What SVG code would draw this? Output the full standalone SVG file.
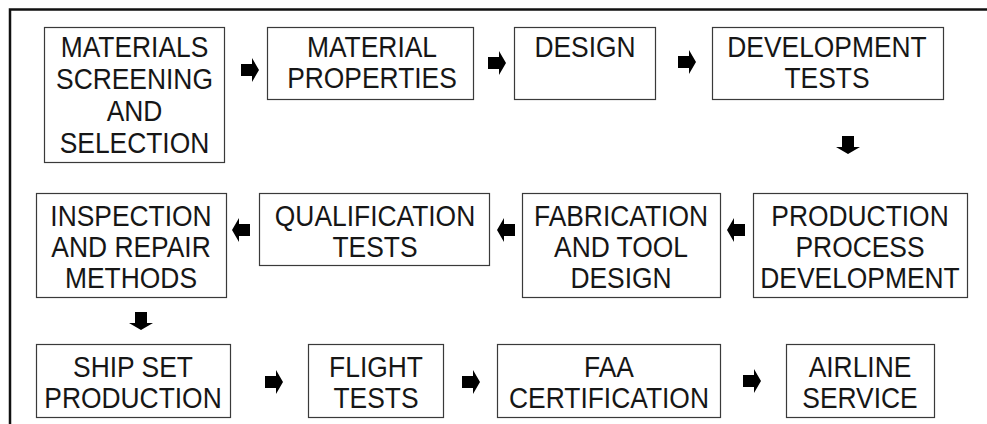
<svg xmlns="http://www.w3.org/2000/svg" width="987" height="424" viewBox="0 0 987 424">
<style>
.box{fill:#fff;stroke:#3a3a3a;stroke-width:1.2}
.t{font-family:"Liberation Sans",Arial,sans-serif;font-size:30px;fill:#161616;text-anchor:middle}
.frame{fill:none;stroke:#111;stroke-width:2.5}
</style>
<defs>
<path id="arr" d="M-9,-6 H2 V-12 L9,0 L2,12 V6 H-9 Z" fill="#000"/>
</defs>
<rect width="987" height="424" fill="#fff"/>
<path class="frame" d="M10,424 V9.5 H987"/>
<g id="n1"><rect class="box" x="44.5" y="27.5" width="180" height="135"/><text class="t" transform="translate(134.5,0) scale(0.88,1)"><tspan x="0" y="57">MATERIALS</tspan><tspan x="0" y="89">SCREENING</tspan><tspan x="0" y="121">AND</tspan><tspan x="0" y="153">SELECTION</tspan></text></g>
<g id="n2"><rect class="box" x="267.5" y="27.5" width="206" height="72"/><text class="t" transform="translate(372,0) scale(0.88,1)"><tspan x="0" y="57">MATERIAL</tspan><tspan x="0" y="88">PROPERTIES</tspan></text></g>
<g id="n3"><rect class="box" x="514.5" y="27.5" width="141" height="72"/><text class="t" transform="translate(585,0) scale(0.88,1)" x="0" y="57">DESIGN</text></g>
<g id="n4"><rect class="box" x="712.5" y="27.5" width="231" height="72"/><text class="t" transform="translate(827,0) scale(0.88,1)"><tspan x="0" y="57">DEVELOPMENT</tspan><tspan x="0" y="88">TESTS</tspan></text></g>
<g id="n5"><rect class="box" x="753.5" y="193.5" width="214" height="104"/><text class="t" transform="translate(860,0) scale(0.88,1)"><tspan x="0" y="226">PRODUCTION</tspan><tspan x="0" y="257">PROCESS</tspan><tspan x="0" y="288">DEVELOPMENT</tspan></text></g>
<g id="n6"><rect class="box" x="522.5" y="193.5" width="198" height="104"/><text class="t" transform="translate(621,0) scale(0.88,1)"><tspan x="0" y="226">FABRICATION</tspan><tspan x="0" y="257">AND TOOL</tspan><tspan x="0" y="288">DESIGN</tspan></text></g>
<g id="n7"><rect class="box" x="259.5" y="193.5" width="230" height="72"/><text class="t" transform="translate(375,0) scale(0.88,1)"><tspan x="0" y="226">QUALIFICATION</tspan><tspan x="0" y="257">TESTS</tspan></text></g>
<g id="n8"><rect class="box" x="36.5" y="193.5" width="190" height="104"/><text class="t" transform="translate(131,0) scale(0.88,1)"><tspan x="0" y="226">INSPECTION</tspan><tspan x="0" y="257">AND REPAIR</tspan><tspan x="0" y="288">METHODS</tspan></text></g>
<g id="n9"><rect class="box" x="36.5" y="344.5" width="194" height="73"/><text class="t" transform="translate(133,0) scale(0.88,1)"><tspan x="0" y="377">SHIP SET</tspan><tspan x="0" y="408">PRODUCTION</tspan></text></g>
<g id="n10"><rect class="box" x="308.5" y="344.5" width="135" height="73"/><text class="t" transform="translate(376,0) scale(0.88,1)"><tspan x="0" y="377">FLIGHT</tspan><tspan x="0" y="408">TESTS</tspan></text></g>
<g id="n11"><rect class="box" x="497.5" y="344.5" width="223" height="73"/><text class="t" transform="translate(609,0) scale(0.88,1)"><tspan x="0" y="377">FAA</tspan><tspan x="0" y="408">CERTIFICATION</tspan></text></g>
<g id="n12"><rect class="box" x="786.5" y="344.5" width="148" height="73"/><text class="t" transform="translate(860,0) scale(0.88,1)"><tspan x="0" y="377">AIRLINE</tspan><tspan x="0" y="408">SERVICE</tspan></text></g>
<g id="connectors">
<use href="#arr" transform="translate(250,70)"/>
<use href="#arr" transform="translate(497,63)"/>
<use href="#arr" transform="translate(687,62)"/>
<use href="#arr" transform="translate(848,145) rotate(90)"/>
<use href="#arr" transform="translate(736,230) rotate(180)"/>
<use href="#arr" transform="translate(506,230) rotate(180)"/>
<use href="#arr" transform="translate(241,230) rotate(180)"/>
<use href="#arr" transform="translate(141,321) rotate(90)"/>
<use href="#arr" transform="translate(274,382)"/>
<use href="#arr" transform="translate(471,382)"/>
<use href="#arr" transform="translate(752,381)"/>
</g>
</svg>
